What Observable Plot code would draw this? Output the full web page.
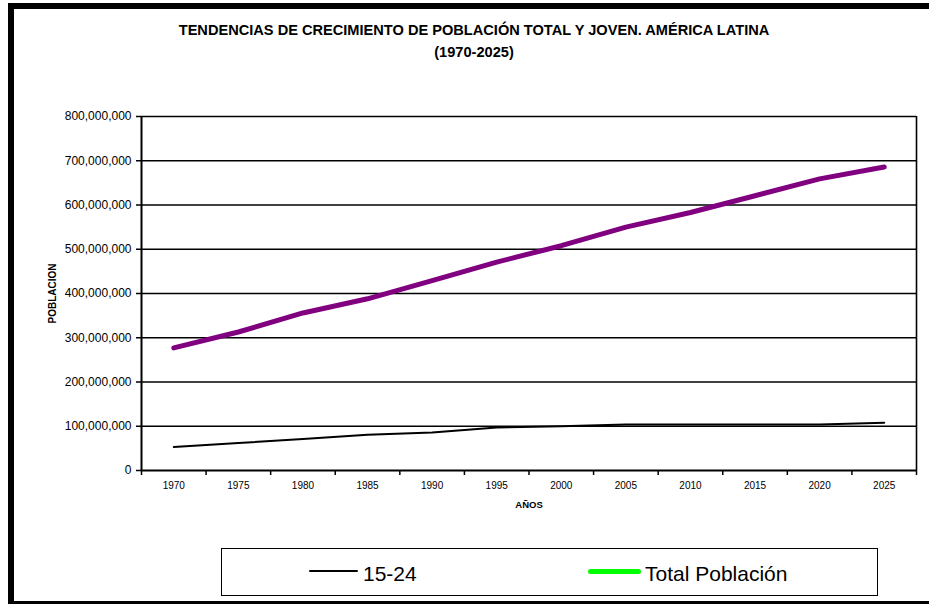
<!DOCTYPE html>
<html>
<head>
<meta charset="utf-8">
<script src="https://cdn.jsdelivr.net/npm/d3@7"></script>
<script src="https://cdn.jsdelivr.net/npm/@observablehq/plot@0.6"></script>
<style>
  html, body { margin: 0; padding: 0; background: #fff; overflow: hidden; }
  #page { position: relative; width: 929px; height: 604px; overflow: hidden; font-family: "Liberation Sans", Arial, sans-serif; }
  #border { position: absolute; left: 8px; top: 3px; width: 960px; height: 592px; border-left: 6px solid #000; border-top: 6px solid #000; border-bottom: 3px solid #000; }
  #title { position: absolute; left: 124px; width: 700px; top: 19px; text-align: center; font-weight: bold; font-size: 14.6px; line-height: 22px; color: #000; }
  #chart { position: absolute; left: 0; top: 0; }
  #legend { position: absolute; left: 221px; top: 548px; width: 655px; height: 46px; border: 1.5px solid #000; background: #fff; }
  .sw { position: absolute; }
  .lt { position: absolute; font-size: 21px; line-height: 24px; color: #000; white-space: nowrap; }
</style>
</head>
<body>
<div id="page">
  <div id="border"></div>
  <div id="chart"></div>
  <div id="title">TENDENCIAS DE CRECIMIENTO DE POBLACIÓN TOTAL Y JOVEN. AMÉRICA LATINA<br>(1970-2025)</div>
  <div id="legend"></div>
</div>
<script>
const years = [1970, 1975, 1980, 1985, 1990, 1995, 2000, 2005, 2010, 2015, 2020, 2025];
const totalPoblacion = [277000000, 313000000, 356000000, 388000000, 429000000, 471000000, 508000000, 550000000, 583000000, 621000000, 659000000, 686000000];
const joven1524 = [53000000, 62000000, 71000000, 81000000, 86000000, 97000000, 100000000, 104000000, 104000000, 104000000, 104000000, 108000000];
const yTicks = [0, 100000000, 200000000, 300000000, 400000000, 500000000, 600000000, 700000000, 800000000];
const seriesNames = ["15-24", "Total Población"];
const lineColors = ["#000000", "#800080"];
const legendColors = ["#000000", "#00FF00"];

const rows = [];
years.forEach((yr, i) => {
  rows.push({year: yr, value: joven1524[i], serie: seriesNames[0]});
  rows.push({year: yr, value: totalPoblacion[i], serie: seriesNames[1]});
});
const half = (years[1] - years[0]) / 2;
const xDomain = [years[0] - half, years[years.length - 1] + half];
const edgeTicks = years.map(y => y - half).concat([years[years.length - 1] + half]);

const chart = Plot.plot({
  width: 929,
  height: 604,
  marginLeft: 141,
  marginRight: 13,
  marginTop: 116,
  marginBottom: 134,
  style: {fontFamily: '"Liberation Sans", Arial, sans-serif', color: "#000", background: "transparent"},
  x: {type: "linear", domain: xDomain, label: null},
  y: {domain: [0, 800000000], label: null},
  marks: [
    Plot.ruleY(yTicks.slice(1), {stroke: "#000", strokeWidth: 1.6}),
    Plot.ruleX([xDomain[1]], {stroke: "#000", strokeWidth: 1.6}),
    Plot.axisY({ticks: yTicks, tickSize: 5, tickPadding: 5, tickFormat: d3.format(","), fontSize: 12, label: null, strokeWidth: 1.5}),
    Plot.axisX({ticks: edgeTicks, tickSize: 5, tickFormat: () => "", label: null, strokeWidth: 1.5}),
    Plot.axisX({ticks: years, tickSize: 0, tickPadding: 11, tickFormat: d => String(d), fontSize: 10, label: null}),
    Plot.ruleX([xDomain[0]], {stroke: "#000", strokeWidth: 2}),
    Plot.ruleY([0], {stroke: "#000", strokeWidth: 2}),
    Plot.line(rows.filter(d => d.serie === seriesNames[1]), {x: "year", y: "value", stroke: lineColors[1], strokeWidth: 5, strokeLinecap: "round"}),
    Plot.line(rows.filter(d => d.serie === seriesNames[0]), {x: "year", y: "value", stroke: lineColors[0], strokeWidth: 2}),
    Plot.text(["POBLACION"], {frameAnchor: "left", dx: -89, rotate: -90, textAnchor: "middle", fontWeight: "bold", fontSize: 10}),
    Plot.text(["AÑOS"], {frameAnchor: "bottom", dy: 37, fontWeight: "bold", fontSize: 9.5})
  ]
});
document.getElementById("chart").appendChild(chart);

const legend = document.getElementById("legend");
const items = [
  {name: seriesNames[0], color: legendColors[0], x1: 87, x2: 136, w: 2, tx: 141},
  {name: seriesNames[1], color: legendColors[1], x1: 366, x2: 419, w: 5, tx: 423}
];
items.forEach(it => {
  const sw = document.createElement("div");
  sw.className = "sw";
  sw.style.left = it.x1 + "px";
  sw.style.width = (it.x2 - it.x1) + "px";
  sw.style.top = (22 - it.w / 2) + "px";
  sw.style.height = it.w + "px";
  sw.style.background = it.color;
  sw.style.borderRadius = (it.w / 2) + "px";
  legend.appendChild(sw);
  const t = document.createElement("div");
  t.className = "lt";
  t.style.left = it.tx + "px";
  t.style.top = "13px";
  t.textContent = it.name;
  legend.appendChild(t);
});
</script>
</body>
</html>
